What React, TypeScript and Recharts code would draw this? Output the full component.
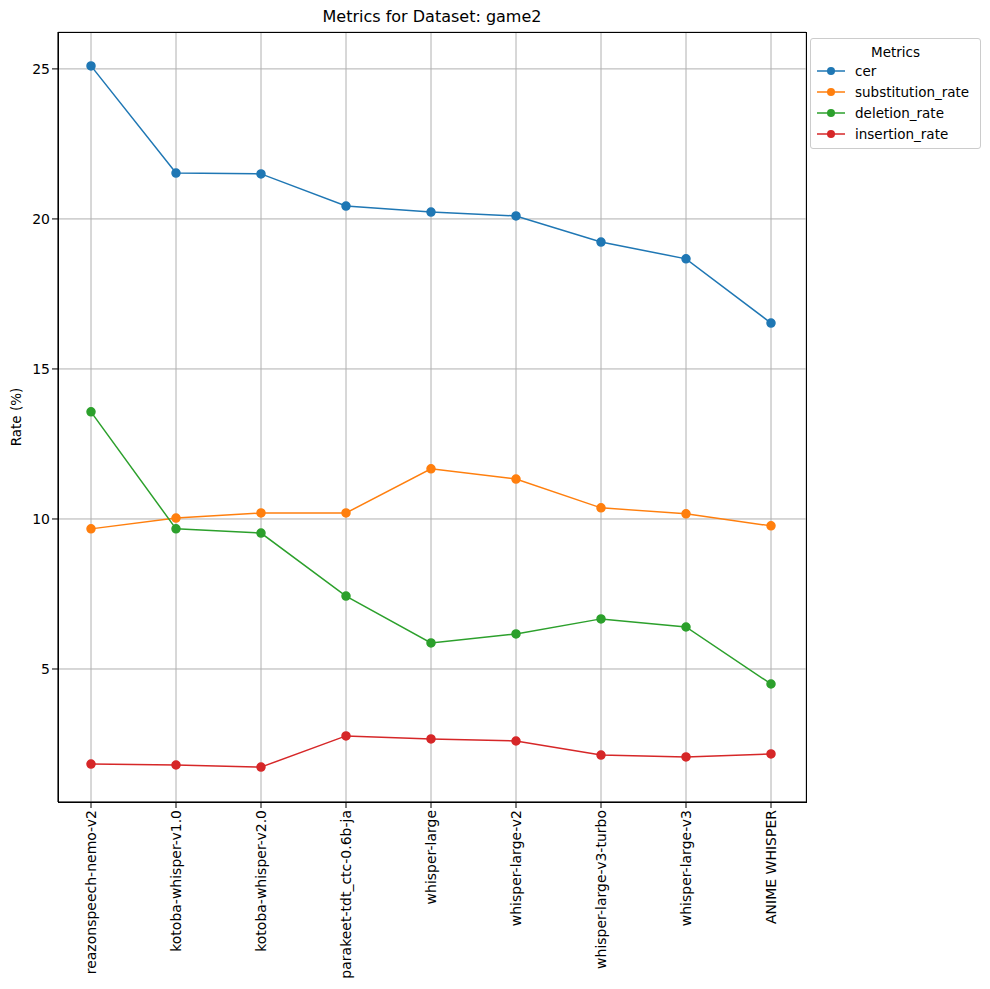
import { LineChart, Line, XAxis, YAxis, CartesianGrid } from "recharts"

const models = [
  "reazonspeech-nemo-v2",
  "kotoba-whisper-v1.0",
  "kotoba-whisper-v2.0",
  "parakeet-tdt_ctc-0.6b-ja",
  "whisper-large",
  "whisper-large-v2",
  "whisper-large-v3-turbo",
  "whisper-large-v3",
  "ANIME WHISPER",
]
const cer = [25.1, 21.53, 21.5, 20.43, 20.23, 20.1, 19.23, 18.67, 16.53]
const substitutionRate = [9.67, 10.03, 10.2, 10.2, 11.67, 11.33, 10.37, 10.17, 9.77]
const deletionRate = [13.57, 9.67, 9.53, 7.43, 5.87, 6.17, 6.67, 6.4, 4.5]
const insertionRate = [1.83, 1.8, 1.73, 2.77, 2.67, 2.6, 2.13, 2.07, 2.17]
const yTicks = [5, 10, 15, 20, 25]

const series = [
  { key: "cer", color: "#1f77b4" },
  { key: "substitution_rate", color: "#ff7f0e" },
  { key: "deletion_rate", color: "#2ca02c" },
  { key: "insertion_rate", color: "#d62728" },
]

const data = models.map((m, i) => ({
  model: m,
  cer: cer[i],
  substitution_rate: substitutionRate[i],
  deletion_rate: deletionRate[i],
  insertion_rate: insertionRate[i],
}))

const font = "DejaVu Sans, sans-serif"

export default function App() {
  return (
    <div style={{ position: "absolute", left: 0, top: 0, width: 990, height: 989, background: "#fff", fontFamily: font }}>
      <div style={{ position: "absolute", top: 7, left: 58, width: 748, textAlign: "center", fontSize: 16 }}>
        Metrics for Dataset: game2
      </div>
      <div style={{ position: "absolute", left: 16, top: 417, transform: "translate(-50%,-50%) rotate(-90deg)", fontSize: 13.5, whiteSpace: "nowrap" }}>
        Rate (%)
      </div>
      <LineChart width={990} height={989} data={data} margin={{ top: 32, right: 184, bottom: 0, left: 0 }}>
        <CartesianGrid stroke="#b0b0b0" />
        <XAxis
          dataKey="model"
          interval={0}
          padding={{ left: 33, right: 35 }}
          height={187}
          angle={-90}
          textAnchor="end"
          dx={-5}
          tick={{ fontSize: 14, fill: "#000", fontFamily: font }}
          tickLine={{ stroke: "#000" }}
          axisLine={{ stroke: "#000" }}
        />
        <YAxis
          domain={[0.567, 26.23]}
          ticks={yTicks}
          width={58}
          tick={{ fontSize: 14, fill: "#000", fontFamily: font }}
          tickLine={{ stroke: "#000" }}
          axisLine={{ stroke: "#000" }}
        />
        {series.map((s) => (
          <Line
            key={s.key}
            dataKey={s.key}
            stroke={s.color}
            strokeWidth={1.5}
            dot={{ r: 4, fill: s.color, stroke: s.color }}
            isAnimationActive={false}
          />
        ))}
      </LineChart>
      <div style={{ position: "absolute", left: 58, top: 32, width: 747, height: 769, border: "1px solid #000", pointerEvents: "none" }} />
      <div style={{ position: "absolute", left: 810, top: 38, width: 169, height: 109, border: "1px solid #ccc", borderRadius: 3, fontSize: 13.5 }}>
        <div style={{ textAlign: "center", marginTop: 5 }}>Metrics</div>
        {series.map((s) => (
          <div key={s.key} style={{ display: "flex", alignItems: "center", height: 21 }}>
            <svg width={40} height={12} style={{ marginLeft: 4 }}>
              <line x1={2} y1={6} x2={30} y2={6} stroke={s.color} strokeWidth={1.5} />
              <circle cx={16} cy={6} r={4} fill={s.color} />
            </svg>
            <span>{s.key}</span>
          </div>
        ))}
      </div>
    </div>
  )
}
